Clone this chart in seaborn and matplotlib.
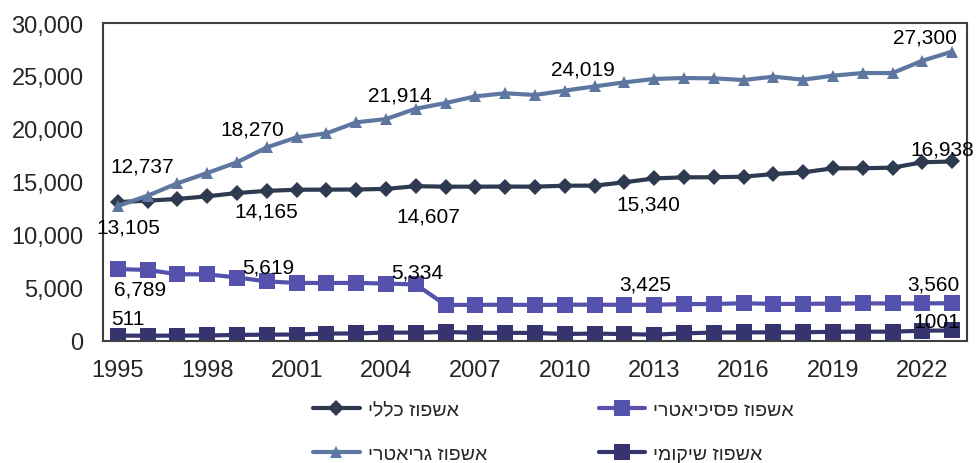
import matplotlib
matplotlib.use('Agg')
import matplotlib.pyplot as plt
from matplotlib.ticker import FuncFormatter, FixedLocator
import seaborn as sns
import pandas as pd

years = list(range(1995, 2024))

general = [13105, 13240, 13400, 13650, 13960, 14165, 14270, 14280, 14290, 14350,
           14607, 14560, 14560, 14570, 14560, 14650, 14660, 14970, 15340, 15440,
           15450, 15500, 15750, 15910, 16290, 16300, 16350, 16860, 16938]
geriatric = [12737, 13710, 14880, 15850, 16860, 18270, 19210, 19590, 20630, 20940,
             21914, 22450, 23080, 23370, 23210, 23620, 24019, 24400, 24720, 24810,
             24780, 24620, 24940, 24650, 25030, 25280, 25280, 26440, 27300]
psych = [6789, 6700, 6300, 6290, 5990, 5619, 5480, 5470, 5480, 5420,
         5334, 3400, 3410, 3420, 3400, 3420, 3430, 3410, 3425, 3480,
         3490, 3560, 3500, 3500, 3530, 3550, 3540, 3550, 3560]
rehab = [511, 500, 510, 520, 570, 600, 610, 700, 710, 800,
         790, 850, 780, 770, 760, 660, 700, 650, 600, 720,
         800, 810, 820, 820, 870, 880, 880, 970, 1001]

names = {
    'general': 'אשפוז כללי',
    'psych': 'אשפוז פסיכיאטרי',
    'geriatric': 'אשפוז גריאטרי',
    'rehab': 'אשפוז שיקומי',
}
series = {'general': general, 'geriatric': geriatric, 'psych': psych, 'rehab': rehab}
colors = {'general': '#2E3A4F', 'geriatric': '#5E77A0', 'psych': '#5452AC', 'rehab': '#35346E'}
markers = {'general': 'D', 'geriatric': '^', 'psych': 's', 'rehab': 's'}
msizes = {'general': 8, 'geriatric': 9, 'psych': 11, 'rehab': 11}

# labelled points: (series, year, dx px, dy px, comma)
labels = [
    ('general', 1995, 10, -25, True), ('general', 2000, -1, -20, True),
    ('general', 2005, 12, -30, True), ('general', 2013, -6, -26, True),
    ('general', 2023, -10, 12, True),
    ('geriatric', 1995, 24, 40, True), ('geriatric', 2000, -15, 18, True),
    ('geriatric', 2005, -16, 14, True), ('geriatric', 2011, -12, 17, True),
    ('geriatric', 2023, -27, 15, True),
    ('psych', 1995, 22, -20, True), ('psych', 2000, 1, 14, True),
    ('psych', 2005, 1, 12, True), ('psych', 2013, -9, 21, True),
    ('psych', 2023, -19, 19, True),
    ('rehab', 1995, 10, 17, True), ('rehab', 2023, -15, 9, False),
]

sns.set_style('white')
plt.rcParams['font.family'] = ['Liberation Sans', 'DejaVu Sans']

fig = plt.figure(figsize=(9.76, 4.64), dpi=100)
ax = fig.add_axes([103 / 976, 1 - 342 / 464, 864 / 976, 318 / 464])

for key in ['general', 'geriatric', 'psych', 'rehab']:
    df = pd.DataFrame({'year': years, 'value': series[key]})
    sns.lineplot(data=df, x='year', y='value', ax=ax, color=colors[key],
                 marker=markers[key], markersize=msizes[key], markeredgewidth=0,
                 linewidth=3, label=names[key][::-1])

for key, yr, dx, dy, comma in labels:
    v = series[key][years.index(yr)]
    txt = f'{v:,}' if comma else str(v)
    ax.annotate(txt, (yr, v), xytext=(dx, dy), textcoords='offset pixels',
                ha='center', va='center', fontsize=15, color='black')

ax.set_xlim(1994.5, 2023.5)
ax.set_ylim(0, 30000)
ax.set_yticks(range(0, 30001, 5000))
ax.yaxis.set_major_formatter(FuncFormatter(lambda v, p: f'{int(v):,}'))
ax.set_xticks(list(range(1995, 2024, 3)))
ax.xaxis.set_minor_locator(FixedLocator([y - 0.5 for y in years] + [2023.5]))
ax.tick_params(axis='x', which='major', length=0, labelsize=17, pad=13)
ax.tick_params(axis='x', which='minor', length=6, width=1.5, color='#303030', direction='out')
ax.tick_params(axis='y', length=6, width=1.5, color='#303030', labelsize=17, direction='out', pad=8)
ax.set_xlabel('')
ax.set_ylabel('')
for s in ax.spines.values():
    s.set_color('#404040')
    s.set_linewidth(1.5)

ax.legend_.remove()
h, l = ax.get_legend_handles_labels()
fig.legend(h, l, loc='center', bbox_to_anchor=(0.567, 0.066), ncol=2, frameon=False,
           fontsize=14, handlelength=2.4, labelspacing=1.35, columnspacing=5.75,
           handletextpad=0.4)

fig.savefig('out.png', dpi=100)
